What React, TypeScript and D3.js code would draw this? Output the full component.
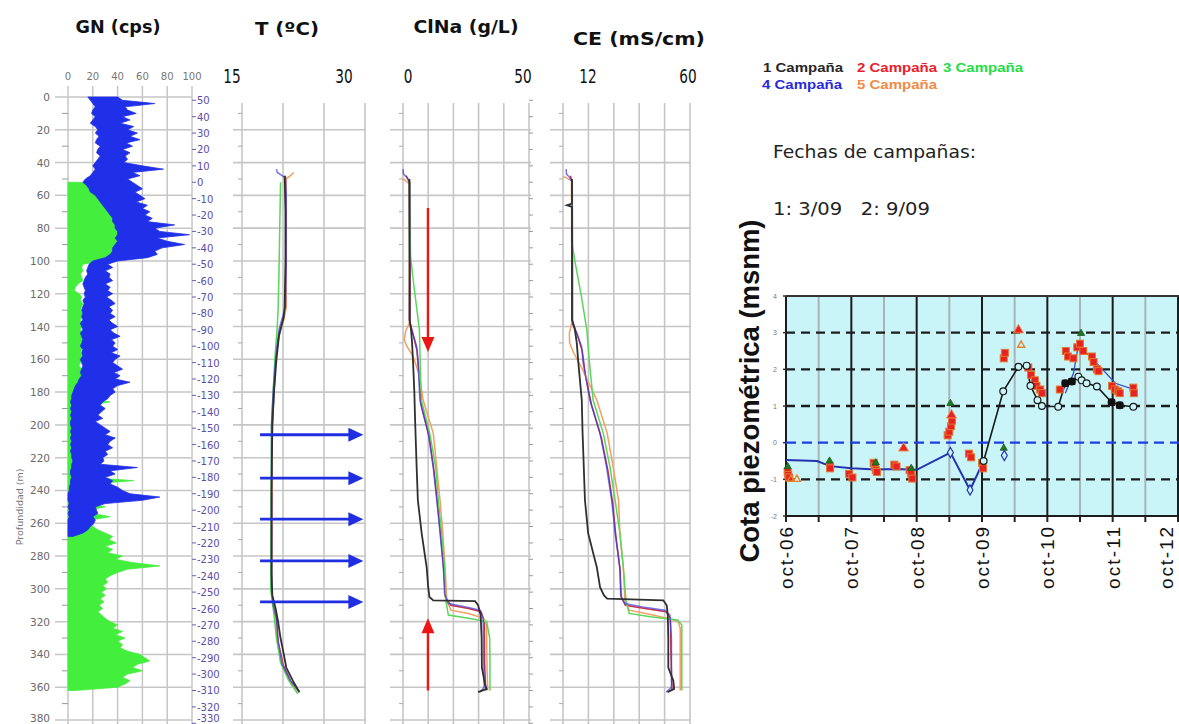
import React from "react";
import * as d3 from "d3";

// ---------------- DATA ----------------
// Gamma natural log (GN, cps), sampled every 2 m of depth
const gnBlueStart = 0;
const gnBlueLo = [16,18,20,22,20,19,22,20,18,22, 24,22,25,23,22,26,24,23,26,24, 22,20,22,20,18,14,12,15,17,18, 22,24,26,28,30,32,34,36,36,38, 38,40,40,38,40,38,36,36,34,30, 20,17,16,15,16,14,13,12,13,14, 13,14,12,13,12,11,12,11,12,10, 11,12,10,11,12,11,10,12,11,12, 10,11,12,11,10,11,9,8,6,5, 4,3,3,2,3,2,3,2,3,2, 2,3,2,3,2,3,2,3,2,3, 3,4,3,3,2,2,3,2,2,1, 1,0,0,0,1,0,1,0,1,0, 0,0,0,0,0];
const gnBlueHi = [40,44,70,46,48,55,44,50,42,53, 48,56,50,58,47,52,44,50,46,48, 45,60,77,52,58,48,52,56,60,54, 58,62,55,64,60,66,62,68,64,86, 70,74,98,72,80,94,76,70,72,64, 40,32,36,30,34,33,36,30,34,32, 36,31,35,38,33,36,34,38,33,36, 40,34,37,42,35,38,36,40,35,42, 38,36,40,44,37,42,38,50,40,36, 38,34,32,28,26,30,27,24,28,22, 26,30,34,30,38,34,32,36,30,32, 28,29,26,56,34,38,30,36,34,40, 44,50,74,60,30,22,23,24,20,22, 21,18,16,12,4];
const gnGreenStart = 52;
const gnGreenHi = [8,45,22,24,26,30,34,30,36,40, 44,38,46,42,48,44,50,46,52,48, 53,46,50,44,28,12,11,12,10,11, 12,8,6,5,9,11,10,12,11,10, 12,11,10,12,11,10,12,11,13,10, 12,11,10,12,11,10,9,11,10,12, 10,11,12,10,11,12,14,34,16,14, 22,15,13,16,14,18,15,20,38,16, 18,15,20,14,16,18,15,24,17,20, 16,53,18,15,20,16,22,18,16,30, 17,20,34,18,16,20,24,30,36,33, 39,30,36,32,44,38,52,74,48,40, 34,30,32,28,31,27,30,26,29,25, 28,24,27,30,34,40,36,44,38,46, 40,44,42,48,58,62,66,56,52,60, 48,44,50,46,40,6];

// Temperature profiles [depth m, ºC]
const tempC1 = [[48,20.2],[70,20.3],[100,20.3],[128,20.2],[134,20.1],[140,19.8],[146,19.5],[160,19.2],[180,18.9],[200,18.7],[240,18.6],[290,18.6],[304,18.7],[312,19.1],[320,19.4],[330,19.7],[340,20.1],[348,20.4],[356,21.2],[363,22.0]];
const tempC2 = [[48,20.3],[100,20.4],[128,20.3],[136,20.0],[142,19.6],[160,19.1],[200,18.7],[300,18.6],[310,18.8],[318,19.2],[332,19.4],[346,20.0],[356,20.9],[363,22.0]];
const tempC3 = [[52,19.7],[80,19.6],[110,19.5],[130,19.4],[140,19.3],[160,19.0],[200,18.6],[300,18.5],[316,18.9],[330,19.2],[345,19.7],[356,20.7],[364,21.8]];
const tempC4 = [[44,19.2],[46,19.3],[48,19.9],[49.5,20.3],[60,20.4],[100,20.4],[128,20.3],[135,19.9],[142,19.5],[160,19.1],[180,18.8],[200,18.6],[300,18.6],[310,18.8],[318,19.2],[332,19.4],[346,19.9],[356,20.9],[363,22.0]];
const tempC5 = [[46,21.3],[48,20.9],[50,20.4],[100,20.4],[128,20.4],[136,20.1],[142,19.6],[160,19.1],[200,18.7],[300,18.6],[316,19.0],[332,19.3],[348,20.0],[358,21.0],[363,22.0]];

// ClNa profiles [depth m, g/L]
const clnaC1 = [[50,2.5],[100,2.6],[136,2.6],[142,3.2],[150,3.6],[162,4.0],[180,4.5],[197,4.8],[225,5.4],[246,5.9],[266,7.4],[287,9.4],[299,10.0],[305,10.5],[307,12.0],[307.5,28.6],[310,29.8],[316,30.8],[330,31.2],[348,31.3],[358,32.5],[361,33.2],[363,29.8]];
const clnaC2 = [[48,1.2],[52,2.7],[100,2.8],[138,2.8],[145,4.0],[155,5.6],[170,6.4],[188,7.2],[208,10.5],[228,12.3],[248,13.7],[268,15.0],[289,16.2],[305,16.8],[310,19.0],[312,26.0],[314,31.0],[320,32.3],[345,32.4],[362,32.8]];
const clnaC3 = [[50,2.6],[80,2.8],[97,3.0],[111,4.0],[142,6.5],[172,7.0],[185,7.3],[205,10.6],[226,13.0],[246,14.0],[266,15.3],[287,16.5],[307,17.0],[316,18.0],[318,26.0],[320,33.2],[330,34.4],[345,34.5],[362,34.5]];
const clnaC4 = [[44,0],[47,0.2],[49,1.5],[52,2.6],[100,2.7],[136,2.6],[142,3.5],[152,5.4],[162,6.0],[185,6.7],[205,10.0],[226,12.0],[246,13.4],[266,14.7],[287,16.0],[303,16.5],[309,18.0],[311,25.0],[313,30.6],[318,31.8],[340,32.0],[360,32.2],[363,30.5]];
const clnaC5 = [[49.5,-0.3],[51,1.0],[53,2.5],[100,2.5],[138,2.5],[143,1.0],[148,0.5],[152,1.5],[158,4.0],[170,6.5],[185,8.0],[205,12.0],[226,13.4],[246,14.7],[266,15.8],[287,16.7],[307,17.4],[313,19.0],[315,26.0],[318,32.0],[322,33.2],[345,33.3],[362,33.6]];

// CE profiles [depth m, mS/cm]
const ceC1 = [[50,15.4],[65,15.4],[66,13.5],[67,15.4],[100,15.4],[136,15.4],[142,16.5],[150,17.2],[162,17.8],[185,19.1],[205,19.4],[246,20.3],[266,21.5],[287,24.8],[299,26.0],[304,27.5],[306,28.7],[307,49.9],[310,51.2],[316,51.6],[330,51.8],[348,51.8],[356,53.7],[361,54.0],[363,51.5]];
const ceC2 = [[48,14.8],[52,15.5],[100,15.6],[138,15.6],[145,17.4],[155,19.3],[170,20.5],[188,22.8],[208,26.5],[228,29.0],[248,30.8],[268,32.0],[289,33.6],[305,34.0],[310,35.6],[312,43.0],[314,51.0],[318,52.6],[340,52.8],[362,53.2]];
const ceC3 = [[50,15.4],[90,15.5],[101,16.6],[122,19.0],[142,21.0],[162,22.0],[185,23.4],[205,27.2],[226,29.8],[246,31.7],[266,33.5],[287,34.8],[307,35.8],[315,37.0],[317,45.0],[319,55.3],[322,56.9],[340,56.9],[362,56.9]];
const ceC4 = [[44,13.2],[47,13.3],[49,14.5],[52,15.4],[100,15.5],[136,15.5],[142,16.7],[152,19.0],[162,19.6],[185,22.2],[205,26.0],[226,28.5],[246,30.4],[266,31.7],[287,33.5],[304,33.8],[309,35.4],[311,42.0],[313,50.5],[316,52.4],[330,53.0],[360,53.0],[363,51.0]];
const ceC5 = [[48.5,12.0],[49.5,13.5],[51,15.2],[100,15.3],[138,15.3],[144,14.4],[150,14.5],[156,16.0],[165,19.0],[185,24.8],[205,28.7],[226,31.0],[246,33.0],[266,33.5],[287,34.8],[307,35.4],[313,37.0],[316,46.0],[318,51.6],[320,55.5],[324,56.3],[345,56.3],[362,56.3]];

// Axis ticks / labels
const depthTickLabels = [0,20,40,60,80,100,120,140,160,180,200,220,240,260,280,300,320,340,360,380];
const minorDepths = [10,30,50,70,90,110,130,150,170,190,210,230,250,270,290,310,330,350,370];
const elevTickLabels = [50,40,30,20,10,0,-10,-20,-30,-40,-50,-60,-70,-80,-90,-100,-110,-120,-130,-140,-150,-160,-170,-180,-190,-200,-210,-220,-230,-240,-250,-260,-270,-280,-290,-300,-310,-320,-330];
const collarElevation = 52;
const gnTicks = [0,20,40,60,80,100];
const tempGrid = [15,20,25,30];
const clnaGrid = [0,10,20,30,40,50];
const ceGrid = [12,21.6,31.2,40.8,50.4,60];
const panelTitles = ["GN (cps)", "T (ºC)", "ClNa (g/L)", "CE (mS/cm)"];
const campaignLabels = ["1 Campaña", "2 Campaña", "3 Campaña", "4 Campaña", "5 Campaña"];
const campaignColors = ["#262626", "#e8202a", "#22dd44", "#2a2ad8", "#ef8a44"];
const lineColors = ["#303030", "#c8324a", "#5ad65a", "#3a3adf", "#f0a060"];

// annotation arrows
const tempArrowDepths = [206, 232.5, 257.5, 283, 308];
const tempArrowRange = [17.2, 29.8];
const clnaArrowValue = 9.9;
const clnaArrowDown = [67.7, 155.6];
const clnaArrowUp = [362, 318];

// Piezometric inset: months since oct-06, msnm
const insetYTicks = [4,3,2,1,0,-1,-2];
const insetXLabels = ["oct-06","oct-07","oct-08","oct-09","oct-10","oct-11","oct-12"];
const insetHalfYears = [6,18,30,42,54,66];
const piezoBlue = [[0,-0.47],[5.7,-0.5],[8.1,-0.64],[12,-0.7],[16.5,-0.73],[20,-0.72],[24,-0.74],[30.2,-0.27],[33.8,-1.29],[36.3,-0.5]];
const piezoBlack = [[36.3,-0.5],[39.9,1.4],[42.7,2.07],[44.2,2.1],[44.9,1.55],[46.2,1.16],[47,1.0],[50,0.98],[51.3,1.62],[52.5,1.67],[53.7,1.8],[54.3,1.7],[55.2,1.62],[57.1,1.53],[59.8,1.1],[61.3,1.02],[63.8,0.98]];
const piezoBlueLate = [[51.3,1.35],[52.8,1.89],[53.7,2.66],[56.8,2.21],[60.5,1.62],[64.1,1.44]];
const blackSquares = [[51.3,1.62],[52.5,1.67],[59.8,1.1],[61.3,1.02]];
const redSquares = [[0.3,-0.8],[0.4,-0.88],[0.6,-0.95],[8.1,-0.65],[8.1,-0.7],[11.6,-0.85],[12.2,-0.95],[16.1,-0.55],[16.3,-0.65],[16.5,-0.75],[16.7,-0.8],[19.9,-0.6],[20.3,-0.65],[22.7,-0.75],[23,-0.85],[23.2,-0.98],[29.7,0.2],[30,0.3],[30.3,0.45],[30.5,0.6],[33.6,-0.3],[34,-0.4],[36,-0.55],[36.2,-0.7],[40,2.3],[40.2,2.45],[44.5,2.05],[45,1.85],[45.7,1.7],[46,1.55],[46.7,1.45],[47,1.35],[50.3,1.45],[51.4,2.5],[51.8,2.35],[52.8,2.3],[53.5,2.6],[54,2.7],[54.6,2.5],[56.2,2.35],[56.5,2.2],[57.1,2.0],[57.4,1.95],[59.9,1.55],[60.4,1.45],[61,1.4],[61.3,1.35],[63.8,1.5],[63.9,1.35]];
const redTriangles = [[21.6,-0.15],[42.7,3.07],[30.4,0.75]];
const orangeMarks = [[43.2,2.66],[0.9,-1.0],[2,-1.0]];
const greenTriangles = [[0.3,-0.65],[8,-0.5],[30.2,1.07],[40,-0.15],[54.2,2.98],[16.5,-0.55],[23,-0.7]];
const blueDiamonds = [[30.2,-0.27],[33.8,-1.29],[40.1,-0.35]];

const SANS = "'DejaVu Sans', Verdana, sans-serif";
const ARIAL = "'Liberation Sans', Arial, sans-serif";

export default function App() {
  const yD = d3.scaleLinear().domain([0, 380]).range([97, 720]);
  const xGN = d3.scaleLinear().domain([0, 100]).range([68, 192]);
  const xT = d3.scaleLinear().domain([15, 30]).range([242, 365]);
  const xCl = d3.scaleLinear().domain([0, 50]).range([403, 529]);
  const xCE = d3.scaleLinear().domain([12, 60]).range([563, 690]);

  const xI = d3.scaleLinear().domain([0, 72]).range([786, 1178]);
  const yI = d3.scaleLinear().domain([-2, 4]).range([516, 296]);

  const grid = "#c6c6c6";

  const blueData = gnBlueLo.map((lo, i) => ({ d: gnBlueStart + i * 2, lo, hi: gnBlueHi[i] }));
  const greenData = gnGreenHi.map((hi, i) => ({ d: gnGreenStart + i * 2, lo: 0, hi }));
  const gnArea = d3.area<any>().y((p) => yD(p.d)).x0((p) => xGN(p.lo)).x1((p) => xGN(p.hi));

  const profile = (xs: any) => d3.line<number[]>().x((p) => xs(p[1])).y((p) => yD(p[0]));

  const panels = [
    { xs: xT, gridVals: tempGrid, left: 233, right: 366, series: [tempC1, tempC2, tempC3, tempC4, tempC5] },
    { xs: xCl, gridVals: clnaGrid, left: 390, right: 531, series: [clnaC1, clnaC2, clnaC3, clnaC4, clnaC5] },
    { xs: xCE, gridVals: ceGrid, left: 550, right: 691, series: [ceC1, ceC2, ceC3, ceC4, ceC5] },
  ];
  const drawOrder = [1, 4, 2, 3, 0];

  const insetLine = d3.line<number[]>().x((p) => xI(p[0])).y((p) => yI(p[1]));
  const tri = d3.symbol().type(d3.symbolTriangle).size(42)() as string;
  const smallTri = d3.symbol().type(d3.symbolTriangle).size(22)() as string;
  const diamond = d3.symbol().type(d3.symbolDiamond).size(30)() as string;

  const rangeLabel = (x: number, txt: string, key: string) => (
    <text key={key} transform={`translate(${x},83) scale(0.72,1)`} textAnchor="middle" fontFamily={SANS} fontSize={19} fill="#111">{txt}</text>
  );

  return (
    <svg width={1179} height={724} style={{ position: "absolute", left: 0, top: 0, background: "#fff" }}>
      {/* ---------- titles ---------- */}
      <text x={118} y={33} textAnchor="middle" fontFamily={SANS} fontWeight="bold" fontSize={17} textLength={85} lengthAdjust="spacingAndGlyphs" fill="#111">{panelTitles[0]}</text>
      <text x={287} y={35} textAnchor="middle" fontFamily={SANS} fontWeight="bold" fontSize={17} textLength={64} lengthAdjust="spacingAndGlyphs" fill="#111">{panelTitles[1]}</text>
      <text x={466} y={33} textAnchor="middle" fontFamily={SANS} fontWeight="bold" fontSize={17} textLength={105} lengthAdjust="spacingAndGlyphs" fill="#111">{panelTitles[2]}</text>
      <text x={639} y={45} textAnchor="middle" fontFamily={SANS} fontWeight="bold" fontSize={17} textLength={132} lengthAdjust="spacingAndGlyphs" fill="#111">{panelTitles[3]}</text>

      {rangeLabel(xT(15) - 10, "15", "t15")}
      {rangeLabel(xT(30) - 21, "30", "t30")}
      {rangeLabel(xCl(0) + 5, "0", "c0")}
      {rangeLabel(xCl(50) - 6, "50", "c50")}
      {rangeLabel(xCE(12) + 25, "12", "e12")}
      {rangeLabel(xCE(60) - 2, "60", "e60")}

      {/* ---------- GN panel ---------- */}
      <g>
        {gnTicks.map((v) => (
          <line key={"gv" + v} x1={xGN(v)} x2={xGN(v)} y1={86} y2={724} stroke={grid} strokeWidth={1.5} />
        ))}
        {depthTickLabels.map((d) => (
          <line key={"gh" + d} x1={55} x2={192} y1={yD(d)} y2={yD(d)} stroke={grid} strokeWidth={1.5} />
        ))}
        {minorDepths.map((d) => (
          <line key={"gm" + d} x1={62} x2={68} y1={yD(d)} y2={yD(d)} stroke="#999" strokeWidth={1} />
        ))}
        {gnTicks.map((v) => (
          <text key={"gt" + v} x={xGN(v)} y={80} textAnchor="middle" fontFamily={SANS} fontSize={10} fill="#777">{v}</text>
        ))}
        {depthTickLabels.map((d) => (
          <text key={"gl" + d} x={50} y={Math.min(yD(d) + 4, 722)} textAnchor="end" fontFamily={SANS} fontSize={10.5} fill="#6a6a6a">{d}</text>
        ))}
        <text transform={`translate(23,${yD(250)}) rotate(-90)`} textAnchor="middle" fontFamily={SANS} fontSize={9.5} fill="#777">Profundidad (m)</text>

        <path d={gnArea(greenData) || ""} fill="#44ee3c" stroke="#44ee3c" strokeWidth={0.8} />
        <path d={gnArea(blueData) || ""} fill="#1f30e8" stroke="#1f30e8" strokeWidth={0.8} />

        {elevTickLabels.map((e) => (
          <g key={"el" + e}>
            <line x1={192} x2={196} y1={yD(collarElevation - e)} y2={yD(collarElevation - e)} stroke="#6a5fb0" strokeWidth={1} />
            <text x={197} y={Math.min(yD(collarElevation - e) + 4, 722)} fontFamily={SANS} fontSize={10} fill="#5a4ea8">{e}</text>
          </g>
        ))}
      </g>

      {/* ---------- profile panels ---------- */}
      {panels.map((p, pi) => (
        <g key={"panel" + pi}>
          {p.gridVals.map((v) => (
            <line key={"v" + v} x1={p.xs(v)} x2={p.xs(v)} y1={103} y2={724} stroke={grid} strokeWidth={1.6} />
          ))}
          {depthTickLabels.filter((d) => d > 0).map((d) => (
            <line key={"h" + d} x1={p.left} x2={p.right} y1={yD(d)} y2={yD(d)} stroke={grid} strokeWidth={1.6} />
          ))}
          {minorDepths.map((d) => (
            <line key={"m" + d} x1={p.xs(p.gridVals[0]) - 4} x2={p.xs(p.gridVals[0])} y1={yD(d)} y2={yD(d)} stroke="#aaa" strokeWidth={1} />
          ))}
          {drawOrder.map((ci) => (
            <path key={"s" + ci} d={profile(p.xs)(p.series[ci] as any) || ""} fill="none" stroke={lineColors[ci]} strokeWidth={ci === 0 ? 1.8 : 1.5} strokeOpacity={ci === 3 ? 0.7 : 1} />
          ))}
        </g>
      ))}
      {elevTickLabels.map((e) => (
        <line key={"ct" + e} x1={529} x2={533} y1={yD(collarElevation - e)} y2={yD(collarElevation - e)} stroke="#999" strokeWidth={1} />
      ))}

      {/* annotation arrows */}
      {tempArrowDepths.map((d) => (
        <g key={"ta" + d}>
          <line x1={xT(tempArrowRange[0])} x2={xT(tempArrowRange[1]) - 12} y1={yD(d)} y2={yD(d)} stroke="#1f2fe0" strokeWidth={2.8} />
          <path d={`M${xT(tempArrowRange[1])},${yD(d)} L${xT(tempArrowRange[1]) - 15},${yD(d) - 7} L${xT(tempArrowRange[1]) - 15},${yD(d) + 7} Z`} fill="#1f2fe0" />
        </g>
      ))}
      <line x1={xCl(clnaArrowValue)} x2={xCl(clnaArrowValue)} y1={yD(clnaArrowDown[0])} y2={yD(clnaArrowDown[1]) - 12} stroke="#ee1515" strokeWidth={2.4} />
      <path d={`M${xCl(clnaArrowValue)},${yD(clnaArrowDown[1])} L${xCl(clnaArrowValue) - 6.5},${yD(clnaArrowDown[1]) - 15} L${xCl(clnaArrowValue) + 6.5},${yD(clnaArrowDown[1]) - 15} Z`} fill="#ee1515" />
      <line x1={xCl(clnaArrowValue)} x2={xCl(clnaArrowValue)} y1={yD(clnaArrowUp[0])} y2={yD(clnaArrowUp[1]) + 12} stroke="#ee1515" strokeWidth={2.4} />
      <path d={`M${xCl(clnaArrowValue)},${yD(clnaArrowUp[1])} L${xCl(clnaArrowValue) - 6.5},${yD(clnaArrowUp[1]) + 15} L${xCl(clnaArrowValue) + 6.5},${yD(clnaArrowUp[1]) + 15} Z`} fill="#ee1515" />

      {/* ---------- legend & notes ---------- */}
      {campaignLabels.map((lab, i) => {
        const pos = [[763, 72], [857, 72], [943, 72], [762, 89], [857, 89]][i];
        return (
          <text key={lab} x={pos[0]} y={pos[1]} fontFamily={ARIAL} fontWeight="bold" fontSize={13.5} textLength={80} lengthAdjust="spacingAndGlyphs" fill={campaignColors[i]}>{lab}</text>
        );
      })}
      <text x={773} y={158} fontFamily={SANS} fontSize={18} textLength={203} lengthAdjust="spacingAndGlyphs" fill="#222">Fechas de campañas:</text>
      <text x={773} y={215} fontFamily={SANS} fontSize={18} textLength={157} lengthAdjust="spacingAndGlyphs" fill="#222" style={{ whiteSpace: "pre" }}>{"1: 3/09   2: 9/09"}</text>

      {/* ---------- piezometric inset ---------- */}
      <g>
        <rect x={xI(0)} y={yI(4)} width={1179 - xI(0)} height={yI(-2) - yI(4)} fill="#c9f4f8" />
        {insetHalfYears.map((m) => (
          <line key={"ih" + m} x1={xI(m)} x2={xI(m)} y1={yI(4)} y2={yI(-2)} stroke="#a9b4b6" strokeWidth={2} />
        ))}
        {insetXLabels.map((l, i) => (
          <line key={"iy" + l} x1={xI(i * 12)} x2={xI(i * 12)} y1={yI(4)} y2={yI(-2)} stroke="#1c1c1c" strokeWidth={2} />
        ))}
        {insetYTicks.filter((v) => v !== 0 && v !== 4 && v !== -2).map((v) => (
          <line key={"dl" + v} x1={xI(0)} x2={1179} y1={yI(v)} y2={yI(v)} stroke="#1c1c1c" strokeWidth={2.4} strokeDasharray="9,6" />
        ))}
        <line x1={xI(0)} x2={1179} y1={yI(0)} y2={yI(0)} stroke="#1e3ce8" strokeWidth={2.4} strokeDasharray="10,6" />
        <line x1={xI(0)} x2={1179} y1={yI(4)} y2={yI(4)} stroke="#333" strokeWidth={2} />
        <line x1={xI(0)} x2={1179} y1={yI(-2)} y2={yI(-2)} stroke="#1c1c1c" strokeWidth={2} />
        {insetYTicks.map((v) => (
          <g key={"yt" + v}>
            <line x1={xI(0) - 3} x2={xI(0)} y1={yI(v)} y2={yI(v)} stroke="#333" strokeWidth={1.5} />
            <text x={xI(0) - 9} y={yI(v) + 2.5} textAnchor="end" fontFamily={ARIAL} fontSize={7} fill="#777">{v}</text>
          </g>
        ))}
        {[...insetHalfYears, 0, 12, 24, 36, 48, 60, 72].map((m) => (
          <line key={"xt" + m} x1={xI(m)} x2={xI(m)} y1={yI(-2)} y2={yI(-2) + 6} stroke="#222" strokeWidth={2} />
        ))}
        {insetXLabels.map((l, i) => (
          <text key={"xl" + l} transform={`translate(${Math.min(xI(i * 12) + 7, 1173)},527) rotate(-90)`} textAnchor="end" fontFamily={ARIAL} fontSize={19} textLength={62} lengthAdjust="spacing" fill="#111">{l}</text>
        ))}

        <path d={insetLine(piezoBlue as any) || ""} fill="none" stroke="#2434b0" strokeWidth={2} />
        <path d={insetLine(piezoBlueLate as any) || ""} fill="none" stroke="#3050d0" strokeWidth={1.3} />
        <path d={insetLine(piezoBlack as any) || ""} fill="none" stroke="#1a1a1a" strokeWidth={1.6} />

        {redSquares.map((p, i) => (
          <rect key={"rs" + i} x={xI(p[0]) - 3.5} y={yI(p[1]) - 3.5} width={7} height={7} fill="#e82222" stroke="#e07a30" strokeWidth={1} />
        ))}
        {piezoBlack.map((p, i) => (
          <circle key={"bc" + i} cx={xI(p[0])} cy={yI(p[1])} r={3.4} fill="#c9f4f8" stroke="#1a1a1a" strokeWidth={1.2} />
        ))}
        {blackSquares.map((p, i) => (
          <rect key={"bs" + i} x={xI(p[0]) - 3.5} y={yI(p[1]) - 3.5} width={7} height={7} fill="#111" />
        ))}
        {redTriangles.map((p, i) => (
          <path key={"rt" + i} d={tri} transform={`translate(${xI(p[0])},${yI(p[1])})`} fill="#e82222" stroke="#f08a50" strokeWidth={1} />
        ))}
        {orangeMarks.map((p, i) => (
          <path key={"om" + i} d={smallTri} transform={`translate(${xI(p[0])},${yI(p[1])})`} fill="none" stroke="#e8822a" strokeWidth={1.4} />
        ))}
        {greenTriangles.map((p, i) => (
          <path key={"gt" + i} d={smallTri} transform={`translate(${xI(p[0])},${yI(p[1])})`} fill="#1e7a22" stroke="#1a5a1a" strokeWidth={0.8} />
        ))}
        {blueDiamonds.map((p, i) => (
          <path key={"bd" + i} d={diamond} transform={`translate(${xI(p[0])},${yI(p[1])})`} fill="#c9f4f8" stroke="#2434b0" strokeWidth={1.2} />
        ))}
      </g>
      <text transform={`translate(759,${391}) rotate(-90)`} textAnchor="middle" fontFamily={ARIAL} fontWeight="bold" fontSize={27} textLength={343} lengthAdjust="spacingAndGlyphs" fill="#111">Cota piezométrica (msnm)</text>
    </svg>
  );
}
